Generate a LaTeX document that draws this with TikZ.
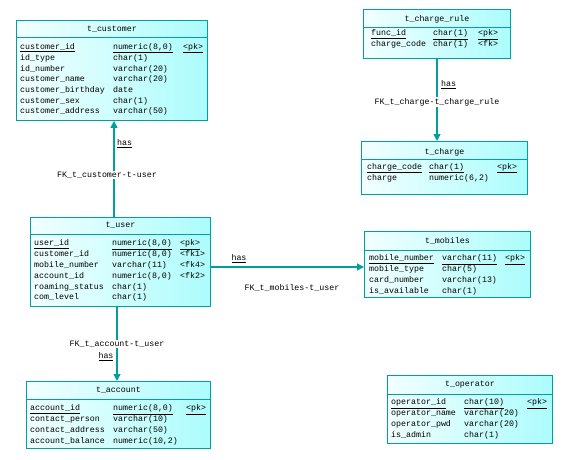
\documentclass[tikz,border=0pt]{standalone}
\usepackage{fontspec}
\usetikzlibrary{arrows.meta}
\newfontfamily\erfont{Liberation Mono}
\newcommand\erfs{\erfont\fontsize{8.3}{10.7}\selectfont}
\definecolor{tealc}{RGB}{0,160,160}
\definecolor{lowc}{RGB}{172,252,252}
\definecolor{highc}{RGB}{242,255,255}
\tikzset{
  tbl/.style={draw=tealc, line width=0.9pt, left color=highc, right color=lowc,
    anchor=north west, inner sep=0pt},
  tline/.style={draw=tealc, line width=0.9pt},
  title/.style={font=\erfs, inner sep=0pt},
  fields/.style={font=\erfs, anchor=north west, inner sep=0pt, align=left},
  fk/.style={draw=tealc, line width=1.3pt, -{Triangle[width=7pt,length=7pt]}},
  lbl/.style={font=\erfs, inner sep=1pt},
  fklbl/.style={font=\erfs, inner sep=1pt, fill=white}
}

\begin{document}
\begin{tikzpicture}[x=1pt,y=-1pt]
\useasboundingbox (0,0) rectangle (566,459);

% t_customer
\node [tbl, minimum width=191pt, minimum height=100pt] (customer) at (16,20) {};
\draw [tline] (customer.west |- 0,37) -- (customer.east |- 0,37);
\node [title] (customert) at (customer.north |- 0,29) {t\_customer};
\node [fields] (customerf) at (20,41.5) {\begin{tabular}{@{}p{93pt}@{}p{70pt}@{}l@{}}
\underline{customer\_id} & \underline{numeric(8,0)} & \underline{<pk>}\\
id\_type & char(1) & \\
id\_number & varchar(20) & \\
customer\_name & varchar(20) & \\
customer\_birthday & date & \\
customer\_sex & char(1) & \\
customer\_address & varchar(50) & \\
\end{tabular}};

% t_charge_rule
\node [tbl, minimum width=147pt, minimum height=49pt] (chargerule) at (363,9) {};
\draw [tline] (chargerule.west |- 0,27.7) -- (chargerule.east |- 0,27.7);
\node [title] (chargerulet) at (chargerule.north |- 0,19) {t\_charge\_rule};
\node [fields] (chargerulef) at (371,28) {\begin{tabular}{@{}p{62pt}@{}p{45pt}@{}l@{}}
\underline{func\_id} & \underline{char(1)} & \underline{<pk>}\\
charge\_code & char(1) & <fk>\\
\end{tabular}};

% t_charge
\node [tbl, minimum width=166pt, minimum height=53pt] (charge) at (361,141) {};
\draw [tline] (charge.west |- 0,159) -- (charge.east |- 0,159);
\node [title] (charget) at (charge.north |- 0,152) {t\_charge};
\node [fields] (chargef) at (367,161.5) {\begin{tabular}{@{}p{62pt}@{}p{68pt}@{}l@{}}
\underline{charge\_code} & \underline{char(1)} & \underline{<pk>}\\
charge & numeric(6,2) & \\
\end{tabular}};

% t_user
\node [tbl, minimum width=180pt, minimum height=89pt] (user) at (30,217) {};
\draw [tline] (user.west |- 0,234) -- (user.east |- 0,234);
\node [title] (usert) at (user.north |- 0,225) {t\_user};
\node [fields] (userf) at (34,238) {\begin{tabular}{@{}p{78pt}@{}p{68pt}@{}l@{}}
\underline{user\_id} & \underline{numeric(8,0)} & \underline{<pk>}\\
customer\_id & numeric(8,0) & <fk1>\\
mobile\_number & varchar(11) & <fk4>\\
account\_id & numeric(8,0) & <fk2>\\
roaming\_status & char(1) & \\
com\_level & char(1) & \\
\end{tabular}};

% t_mobiles
\node [tbl, minimum width=166pt, minimum height=66pt] (mobiles) at (364,231) {};
\draw [tline] (mobiles.west |- 0,250) -- (mobiles.east |- 0,250);
\node [title] (mobilest) at (mobiles.north |- 0,241) {t\_mobiles};
\node [fields] (mobilesf) at (369,253) {\begin{tabular}{@{}p{73pt}@{}p{63pt}@{}l@{}}
\underline{mobile\_number} & \underline{varchar(11)} & \underline{<pk>}\\
mobile\_type & char(5) & \\
card\_number & varchar(13) & \\
is\_available & char(1) & \\
\end{tabular}};

% t_account
\node [tbl, minimum width=184pt, minimum height=67pt] (account) at (26,381) {};
\draw [tline] (account.west |- 0,399) -- (account.east |- 0,399);
\node [title] (accountt) at (account.north |- 0,390) {t\_account};
\node [fields] (accountf) at (30,403) {\begin{tabular}{@{}p{83pt}@{}p{73pt}@{}l@{}}
\underline{account\_id} & \underline{numeric(8,0)} & \underline{<pk>}\\
contact\_person & varchar(10) & \\
contact\_address & varchar(50) & \\
account\_balance & numeric(10,2) & \\
\end{tabular}};

% t_operator
\node [tbl, minimum width=165pt, minimum height=68pt] (operator) at (387,375) {};
\draw [tline] (operator.west |- 0,394) -- (operator.east |- 0,394);
\node [title] (operatort) at (operator.north |- 0,385) {t\_operator};
\node [fields] (operatorf) at (391,397) {\begin{tabular}{@{}p{73pt}@{}p{63pt}@{}l@{}}
\underline{operator\_id} & \underline{char(10)} & \underline{<pk>}\\
operator\_name & varchar(20) & \\
operator\_pwd & varchar(20) & \\
is\_admin & char(1) & \\
\end{tabular}};

% references
\coordinate (xcu) at (114,0);
\coordinate (xua) at (117,0);
\coordinate (xcr) at (437,0);
\coordinate (yum) at (0,267);
\draw [fk] (user.north -| xcu) -- (customer.south -| xcu);
\draw [fk] (user.east |- yum) -- (mobiles.west |- yum);
\draw [fk] (user.south -| xua) -- (account.north -| xua);
\draw [fk] (chargerule.south -| xcr) -- (charge.north -| xcr);

\node [lbl, anchor=west] (hascu) at (116,144) {\underline{has}};
\node [fklbl] (fkcu) at (107,175) {FK\_t\_customer-t-user};
\node [lbl] (hasum) at (239,259) {\underline{has}};
\node [lbl] (fkum) at (292,288) {FK\_t\_mobiles-t\_user};
\node [fklbl] (fkua) at (117,344) {FK\_t\_account-t\_user};
\node [lbl] (hasua) at (106,357) {\underline{has}};
\node [lbl, anchor=west] (hascr) at (440,85) {\underline{has}};
\node [fklbl] (fkcr) at (437,102) {FK\_t\_charge-t\_charge\_rule};

\end{tikzpicture}
\end{document}
